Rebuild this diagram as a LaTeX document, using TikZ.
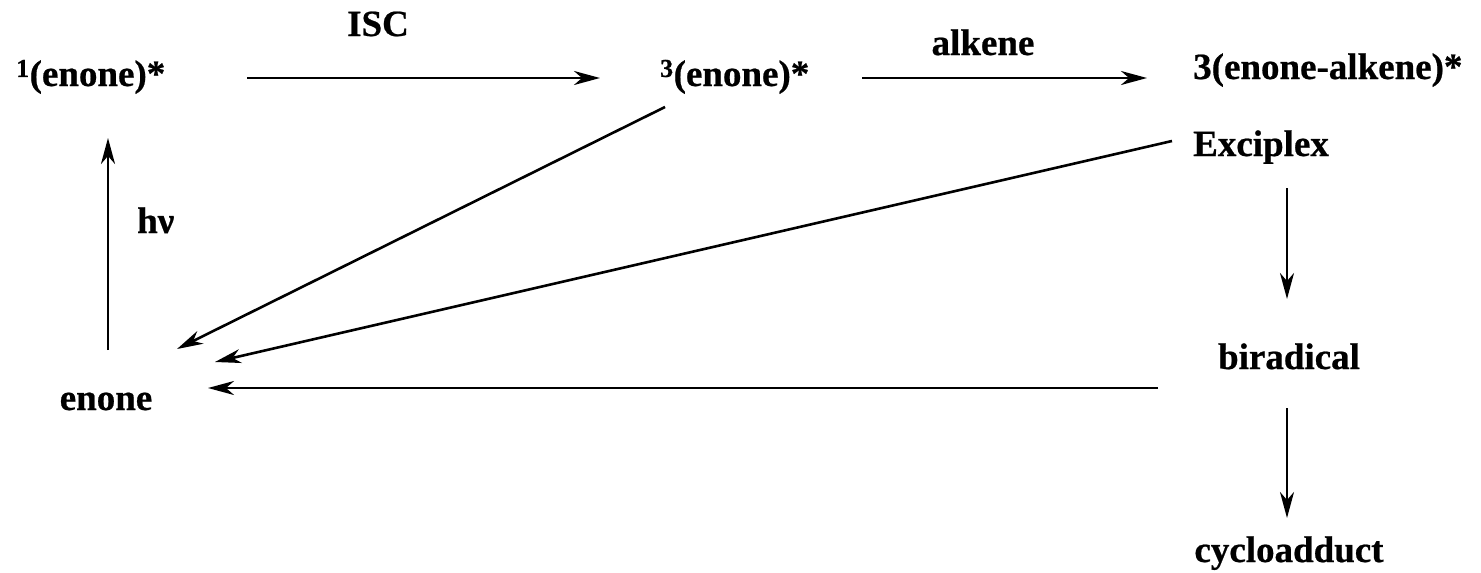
\documentclass[tikz,border=0pt]{standalone}
\usepackage{fontspec}
\setmainfont{Liberation Serif}[BoldFeatures={FakeBold=0.6}]
\usetikzlibrary{arrows.meta}
\begin{document}
\begin{tikzpicture}[x=1pt,y=-1pt,
  font=\fontsize{37}{44}\selectfont\bfseries,
  lbl/.style={inner sep=0pt},
  arr/.style={line width=2.6pt, -{Stealth[length=26pt,width=14pt,inset=8pt]}}]
\useasboundingbox (0,0) rectangle (1481,573);
% species
\node[lbl, anchor=base west] (s1) at (16,86) {\textsuperscript{1}(enone)*};
\node[lbl, anchor=base west] (t1) at (660,86) {\textsuperscript{3}(enone)*};
\node[lbl, anchor=base west] (ex) at (1193,79) {3(enone-alkene)*};
\node[lbl, anchor=base west] (exc) at (1193,156) {Exciplex};
\node[lbl, anchor=base] (en) at (106,410) {enone};
\node[lbl, anchor=base] (bir) at (1289,369) {biradical};
\node[lbl, anchor=base] (cyc) at (1289,562) {cycloadduct};
% labels
\node[lbl, anchor=base] (isc) at (378,36) {ISC};
\node[lbl, anchor=base] (alk) at (983,55) {alkene};
\node[lbl, anchor=base west] (hv) at (137,233) {hν};
% arrow end points
\coordinate (a1s) at (247,78);  \coordinate (a1e) at (600,78);
\coordinate (a2s) at (862,78);  \coordinate (a2e) at (1147,78);
\coordinate (hvs) at (108,350); \coordinate (hve) at (108,138);
\coordinate (t1s) at (665,107); \coordinate (t1e) at (177,349);
\coordinate (exs) at (1172,141); \coordinate (exe) at (215,362);
\coordinate (bis) at (1158,388); \coordinate (bie) at (208,388);
\coordinate (ebs) at (1287,188); \coordinate (ebe) at (1287,299);
\coordinate (bcs) at (1287,408); \coordinate (bce) at (1287,518);
% arrows
\draw[arr] (a1s) -- (a1e);
\draw[arr] (a2s) -- (a2e);
\draw[arr] (hvs) -- (hve);
\draw[arr] (t1s) -- (t1e);
\draw[arr] (exs) -- (exe);
\draw[arr] (bis) -- (bie);
\draw[arr] (ebs) -- (ebe);
\draw[arr] (bcs) -- (bce);
\end{tikzpicture}
\end{document}
